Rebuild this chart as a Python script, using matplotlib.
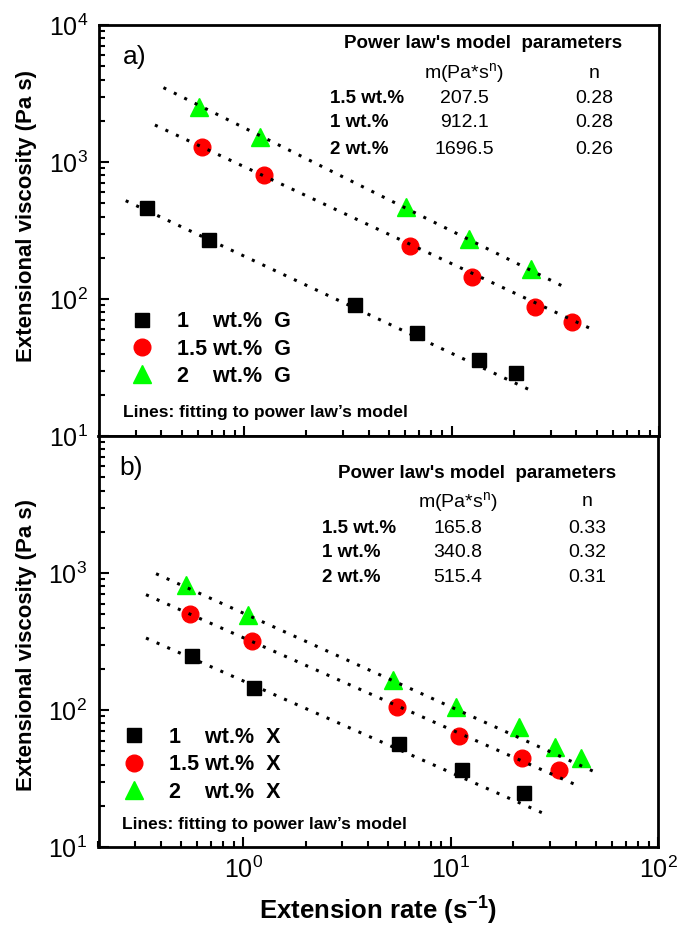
import matplotlib
matplotlib.use('Agg')
from matplotlib import pyplot as plt
from matplotlib.ticker import LogLocator, NullFormatter

plt.rcParams['font.family'] = 'Liberation Sans'
plt.rcParams['mathtext.fontset'] = 'custom'
plt.rcParams['mathtext.rm'] = 'Liberation Sans'
plt.rcParams['mathtext.bf'] = 'Liberation Sans:bold'
plt.rcParams['mathtext.it'] = 'Liberation Sans:italic'

# panel a) - G samples (extension rate 1/s, extensional viscosity Pa s)
rate_g1 = [0.34, 0.68, 3.41, 6.83, 13.6, 20.5]
visc_g1 = [464, 270, 90.4, 56, 35.9, 28.7]
rate_g15 = [0.627, 1.25, 6.29, 12.6, 25.3, 38.0]
visc_g15 = [1294, 804, 245, 145, 87.9, 67.6]
rate_g2 = [0.604, 1.2, 6.04, 12.1, 24.2]
visc_g2 = [2535, 1531, 467, 274, 166]

# fitted power law lines, end points
fit_g1_x, fit_g1_y = [0.269, 25.3], [522, 20.8]
fit_g15_x, fit_g15_y = [0.372, 49.2], [1862, 58.7]
fit_g2_x, fit_g2_y = [0.409, 34.0], [3488, 125]

# panel b) - X samples
rate_x1 = [0.565, 1.12, 5.63, 11.3, 22.6]
visc_x1 = [247, 144, 56.5, 36.6, 24.7]
rate_x15 = [0.55, 1.10, 5.53, 11.0, 22.1, 33.2]
visc_x15 = [506, 320, 106, 65, 44.5, 36.6]
rate_x2 = [0.529, 1.057, 5.29, 10.6, 21.3, 31.9, 42.5]
visc_x2 = [813, 498, 165, 106, 74.8, 54, 44.5]

fit_x1_x, fit_x1_y = [0.339, 27.5], [336, 17.9]
fit_x15_x, fit_x15_y = [0.339, 40.5], [696, 28.4]
fit_x2_x, fit_x2_y = [0.379, 50.1], [990, 35.2]

labels_g = ['1    wt.%  G', '1.5 wt.%  G', '2    wt.%  G']
labels_x = ['1    wt.%  X', '1.5 wt.%  X', '2    wt.%  X']

# power law table
table_rows = ['1.5 wt.%', '1 wt.%', '2 wt.%']
m_g = ['207.5', '912.1', '1696.5']
n_g = ['0.28', '0.28', '0.26']
m_x = ['165.8', '340.8', '515.4']
n_x = ['0.33', '0.32', '0.31']

colors = ['black', 'red', '#00ff00']
markers = ['s', 'o', '^']
msizes = [10.5, 12, 13]


def draw_panel(ax, rates, viscs, fits, labels, m_vals, n_vals, letter, pos):
    handles = []
    for r, v, c, mk, ms in zip(rates, viscs, colors, markers, msizes):
        h, = ax.plot(r, v, ls='none', marker=mk, ms=ms, color=c, mec=c, zorder=2)
        handles.append(h)
    for fx, fy in fits:
        ax.plot(fx, fy, color='black', lw=2.2, ls=(0, (1, 2.8)), zorder=3)

    ax.set_xscale('log')
    ax.set_yscale('log')
    ax.set_xlim(0.2, 100)
    ax.set_ylim(10, 1e4)
    ax.yaxis.set_minor_locator(LogLocator(base=10, subs=range(2, 10)))
    ax.xaxis.set_minor_locator(LogLocator(base=10, subs=range(2, 10)))
    ax.yaxis.set_minor_formatter(NullFormatter())
    ax.xaxis.set_minor_formatter(NullFormatter())
    ax.tick_params(which='both', direction='in', top=False, right=False,
                   width=1.5, labelsize=18)
    ax.tick_params(which='major', length=7)
    ax.tick_params(which='minor', length=4)
    ax.tick_params(axis='y', pad=8)
    ax.tick_params(axis='x', pad=7)
    for s in ax.spines.values():
        s.set_linewidth(2)

    ax.set_ylabel('Extensional viscosity (Pa s)', fontsize=16, fontweight='bold')
    ax.yaxis.set_label_coords(pos['ylab'][0], pos['ylab'][1])

    ax.text(pos['letter'][0], pos['letter'][1], letter, transform=ax.transAxes,
            fontsize=19, ha='left', va='center')

    ax.legend(handles, labels, loc='upper left', bbox_to_anchor=pos['leg'],
              frameon=False, handlelength=1, handletextpad=1.13,
              labelspacing=0.3, borderpad=0, borderaxespad=0,
              prop=dict(weight='bold', size=15.5))
    ax.text(pos['lines'][0], pos['lines'][1], 'Lines: fitting to power law\u2019s model',
            transform=ax.transAxes, fontsize=12.5, fontweight='bold',
            ha='left', va='center')

    # parameter table
    ax.text(pos['head'][0], pos['head'][1], "Power law's model  parameters",
            transform=ax.transAxes, fontsize=13.5, fontweight='bold',
            ha='center', va='center')
    ax.text(pos['mcol'], pos['sub'], r'm(Pa*s$^\mathdefault{n}$)', transform=ax.transAxes,
            fontsize=14, ha='center', va='center')
    ax.text(pos['ncol'], pos['sub'], 'n', transform=ax.transAxes,
            fontsize=14, ha='center', va='center')
    for row, mv, nv, yy in zip(table_rows, m_vals, n_vals, pos['rows']):
        ax.text(pos['rowx'], yy, row, transform=ax.transAxes, fontsize=13.5,
                fontweight='bold', ha='left', va='center')
        ax.text(pos['mcol'], yy, mv, transform=ax.transAxes, fontsize=14,
                ha='center', va='center')
        ax.text(pos['ncol'], yy, nv, transform=ax.transAxes, fontsize=14,
                ha='center', va='center')


fig = plt.figure(figsize=(6.78, 9.31), dpi=100)
ax1 = fig.add_axes([99 / 678, 1 - 436 / 931, 560 / 678, 411 / 931])
ax2 = fig.add_axes([98.5 / 678, 1 - 847.3 / 931, 559.5 / 678, 411.3 / 931], sharex=ax1)

pos_a = dict(ylab=(-0.11, 0.535), letter=(0.043, 0.922), leg=(0.057, 0.304),
             lines=(0.043, 0.058), head=(0.686, 0.956), sub=0.883,
             mcol=0.652, ncol=0.884, rowx=0.4125, rows=[0.822, 0.762, 0.698])
pos_b = dict(ylab=(-0.11, 0.492), letter=(0.038, 0.922), leg=(0.044, 0.2925),
             lines=(0.042, 0.0566), head=(0.676, 0.910), sub=0.840,
             mcol=0.6425, ncol=0.873, rowx=0.3995, rows=[0.776, 0.716, 0.655])

draw_panel(ax1, [rate_g1, rate_g15, rate_g2], [visc_g1, visc_g15, visc_g2],
           [(fit_g1_x, fit_g1_y), (fit_g15_x, fit_g15_y), (fit_g2_x, fit_g2_y)],
           labels_g, m_g, n_g, 'a)', pos_a)
draw_panel(ax2, [rate_x1, rate_x15, rate_x2], [visc_x1, visc_x15, visc_x2],
           [(fit_x1_x, fit_x1_y), (fit_x15_x, fit_x15_y), (fit_x2_x, fit_x2_y)],
           labels_x, m_x, n_x, 'b)', pos_b)

ax1.set_yticks([10, 100, 1000, 10000])
ax2.set_yticks([10, 100, 1000])
ax1.tick_params(axis='x', labelbottom=False)
ax2.set_xlabel(r'Extension rate (s$^{\mathbf{-1}}$)', fontsize=18.5, fontweight='bold')
ax2.xaxis.set_label_coords(0.5, -0.115)

fig.savefig('out.png', dpi=100)
